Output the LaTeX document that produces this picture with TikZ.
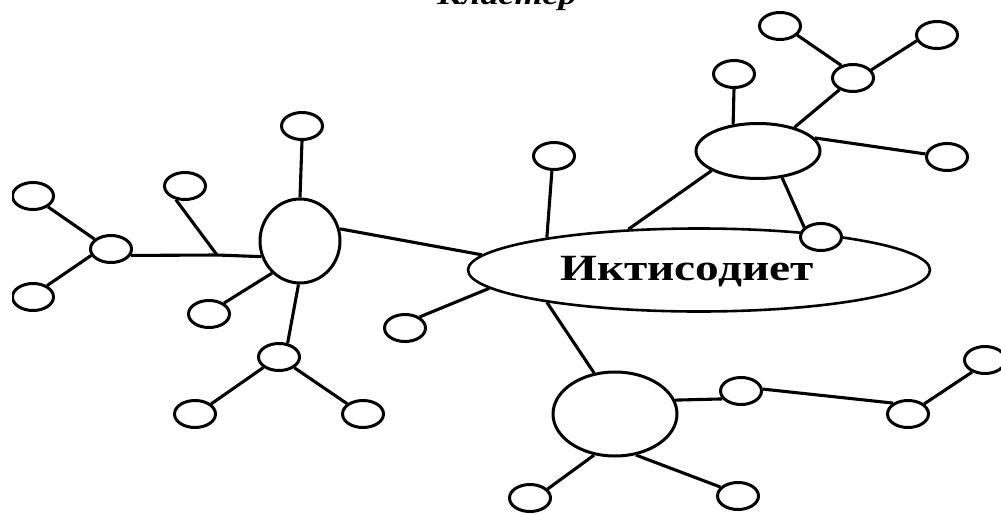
\documentclass[tikz,border=0pt]{standalone}
\usepackage{fontspec}
\setmainfont{Liberation Serif}
\usetikzlibrary{shapes.geometric}
\tikzset{
  sm/.style={ellipse, draw, line width=3pt, fill=white, inner sep=0pt, minimum width=41pt, minimum height=27pt},
  hub/.style={ellipse, draw, line width=3pt, fill=white, inner sep=0pt},
  edge/.style={line width=3.1pt}
}
\begin{document}
\begin{tikzpicture}[x=1pt,y=-1pt]
\useasboundingbox (0,0) rectangle (1001,514);
\clip (12,0) rectangle (1001,514);
% title
\node[anchor=base, inner sep=0pt, font=\bfseries\itshape\fontsize{29}{30}\selectfont] (title) at (507,5) {\scalebox{1.25}[1]{Кластер}};
% main
\node[hub, line width=2.6pt, minimum width=462pt, minimum height=83pt] (main) at (699,270) {};
\node[inner sep=0pt, font=\bfseries\fontsize{37}{38}\selectfont] (lbl) at (687,272) {\scalebox{1.28}[1]{Иктисодиет}};
% hubs
\node[hub, minimum width=80pt, minimum height=84pt] (L) at (300,241) {};
\node[hub, minimum width=124pt, minimum height=55pt] (R) at (758,151) {};
\node[hub, minimum width=124pt, minimum height=84pt] (B) at (615,414) {};
% small nodes
\node[sm] (s1) at (302,126) {};
\node[sm] (s2) at (185,186) {};
\node[sm] (s3) at (111,249) {};
\node[sm] (s4) at (33,196) {};
\node[sm] (s5) at (33,297) {};
\node[sm] (s6) at (209,314) {};
\node[sm] (s7) at (279,357) {};
\node[sm] (s8) at (195,414) {};
\node[sm] (s9) at (363,414) {};
\node[sm] (s10) at (405,328) {};
\node[sm] (s11) at (554,156) {};
\node[sm] (s12) at (734,74) {};
\node[sm] (s13) at (853,78) {};
\node[sm] (s14) at (780,26) {};
\node[sm] (s15) at (937,35) {};
\node[sm] (s16) at (947,157) {};
\node[sm] (s18) at (741,391) {};
\node[sm] (s19) at (908,414) {};
\node[sm] (s20) at (985,360) {};
\node[sm] (s21) at (530,498) {};
\node[sm] (s22) at (738,496) {};
\coordinate (j) at (217,255);
% connectors
\draw[edge] (s1.south) -- (L.north);
\draw[edge] (L.17) -- (main.176);
\draw[edge] (s2.236) -- (j);
\draw[edge] (s3.-18) -- (j) -- (L.202);
\draw[edge] (s4.-36) -- (s3.149);
\draw[edge] (s5.39) -- (s3.198);
\draw[edge] (s6.36) -- (L.229);
\draw[edge] (L.-92) -- (s7.58);
\draw[edge] (s7.214) -- (s8.32);
\draw[edge] (s7.-35) -- (s9.147);
\draw[edge] (s10.37) -- (main.185);
\draw[edge] (s11.-98) -- (main.168);
\draw[edge] (s12.south) -- (R.133);
\draw[edge] (R.33) -- (s13.221);
\draw[edge] (s14.-28) -- (s13.133);
\draw[edge] (s15.196) -- (s13.24);
\draw[edge] (R.13) -- (s16.172);
\draw[edge] (R.203) -- (main.150);
\draw[edge] (main.192) -- (B.117);
\draw[edge] (B.13) -- (s18.203);
\draw[edge] (s18.5) -- (s19.144);
\draw[edge] (s19.32) -- (s20.223);
\draw[edge] (B.243) -- (s21.27);
\draw[edge] (B.297) -- (s22.153);
\node[sm] (s17) at (821,237) {};
\draw[edge] (R.-48) -- (s17.150);
\end{tikzpicture}
\end{document}
